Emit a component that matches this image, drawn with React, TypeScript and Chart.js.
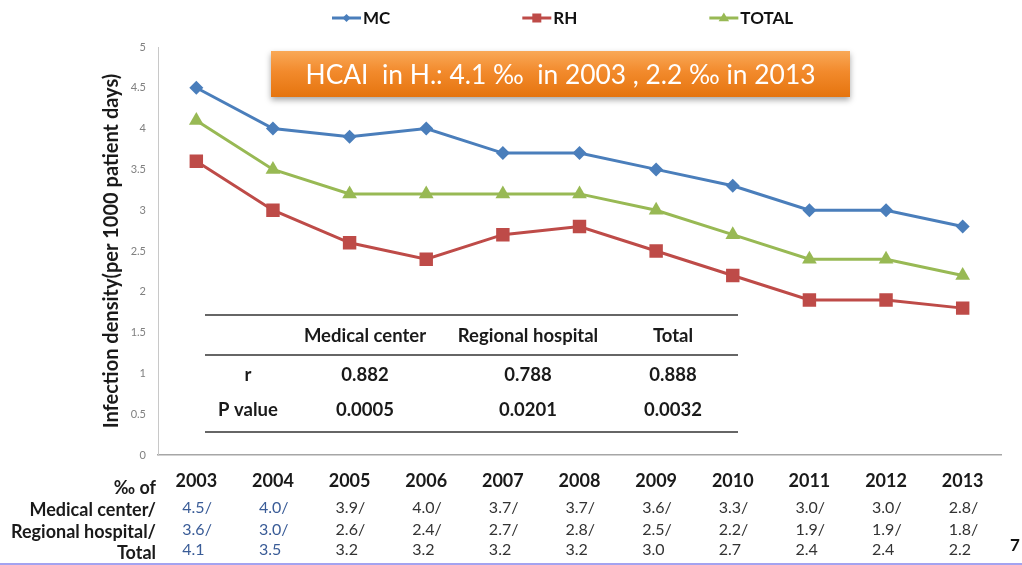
import React, { useEffect, useRef } from "react";
import { Chart, registerables } from "chart.js";

Chart.register(...registerables);

// ---------- data ----------
const years = ["2003", "2004", "2005", "2006", "2007", "2008", "2009", "2010", "2011", "2012", "2013"];
const mcValues = [4.5, 4.0, 3.9, 4.0, 3.7, 3.7, 3.5, 3.3, 3.0, 3.0, 2.8];
const rhValues = [3.6, 3.0, 2.6, 2.4, 2.7, 2.8, 2.5, 2.2, 1.9, 1.9, 1.8];
const totalValues = [4.1, 3.5, 3.2, 3.2, 3.2, 3.2, 3.0, 2.7, 2.4, 2.4, 2.2];

const mcTableText = ["4.5/", "4.0/", "3.9/", "4.0/", "3.7/", "3.7/", "3.6/", "3.3/", "3.0/", "3.0/", "2.8/"];
const rhTableText = ["3.6/", "3.0/", "2.6/", "2.4/", "2.7/", "2.8/", "2.5/", "2.2/", "1.9/", "1.9/", "1.8/"];
const totalTableText = ["4.1", "3.5", "3.2", "3.2", "3.2", "3.2", "3.0", "2.7", "2.4", "2.4", "2.2"];
const tableRowLabels = ["‰ of", "Medical center/", "Regional hospital/", "Total"];

const corrColumns = ["Medical center", "Regional hospital", "Total"];
const corrRowLabels = ["r", "P value"];
const corrR = ["0.882", "0.788", "0.888"];
const corrP = ["0.0005", "0.0201", "0.0032"];

const seriesLabels = ["MC", "RH", "TOTAL"];
const yTitle = "Infection density(per 1000 patient days)";
const bannerText = "HCAI  in H.: 4.1 \u2030  in 2003 , 2.2 \u2030 in 2013";
const pageNumber = "7";

const FONT = "Lato, 'Open Sans', sans-serif";
const COLORS = ["#4A7EBB", "#BE4B48", "#98B954"];
const STYLES = ["rectRot", "rect", "triangle"];

function marker(ctx: CanvasRenderingContext2D, style: string, x: number, y: number, r: number, color: string) {
  ctx.save();
  ctx.fillStyle = color;
  ctx.beginPath();
  if (style === "rectRot") {
    ctx.moveTo(x - r, y);
    ctx.lineTo(x, y - r);
    ctx.lineTo(x + r, y);
    ctx.lineTo(x, y + r);
  } else if (style === "rect") {
    ctx.rect(x - r, y - r, 2 * r, 2 * r);
  } else {
    ctx.moveTo(x, y - r);
    ctx.lineTo(x + r * 0.95, y + r * 0.6);
    ctx.lineTo(x - r * 0.95, y + r * 0.6);
  }
  ctx.closePath();
  ctx.fill();
  ctx.restore();
}

const overlay = {
  id: "overlay",
  afterDraw(chart: any) {
    const ctx: CanvasRenderingContext2D = chart.ctx;
    const xs = chart.scales.x;
    ctx.save();

    // legend
    let lx = 332;
    const ly = 18;
    const markerSizes = [4, 4.5, 5.5];
    seriesLabels.forEach((lab, i) => {
      ctx.strokeStyle = COLORS[i];
      ctx.lineWidth = 3;
      ctx.beginPath();
      ctx.moveTo(lx, ly);
      ctx.lineTo(lx + 29, ly);
      ctx.stroke();
      marker(ctx, STYLES[i], lx + 14.5, ly, markerSizes[i], COLORS[i]);
      ctx.font = `bold 17px ${FONT}`;
      ctx.fillStyle = "#111";
      ctx.textAlign = "left";
      ctx.textBaseline = "middle";
      ctx.fillText(lab, lx + 31, ly + 1);
      lx += 31 + ctx.measureText(lab).width + 132;
    });

    // banner
    const bx = 271, by = 51, bw = 579, bh = 46;
    ctx.save();
    ctx.shadowColor = "rgba(0,0,0,0.35)";
    ctx.shadowBlur = 6;
    ctx.shadowOffsetY = 3;
    const g = ctx.createLinearGradient(0, by, 0, by + bh);
    g.addColorStop(0, "#F9A957");
    g.addColorStop(0.45, "#F28A2C");
    g.addColorStop(1, "#E5740E");
    ctx.fillStyle = g;
    ctx.fillRect(bx, by, bw, bh);
    ctx.restore();
    let fs = 26;
    ctx.font = `${fs}px ${FONT}`;
    fs = (fs * 510) / ctx.measureText(bannerText).width;
    ctx.font = `${fs}px ${FONT}`;
    ctx.fillStyle = "#ffffff";
    ctx.textAlign = "center";
    ctx.textBaseline = "middle";
    ctx.fillText(bannerText, bx + bw / 2, by + bh / 2 + 1);

    // correlation table
    ctx.strokeStyle = "#333";
    ctx.lineWidth = 1.5;
    [315, 355, 432].forEach((yy) => {
      ctx.beginPath();
      ctx.moveTo(205, yy);
      ctx.lineTo(738, yy);
      ctx.stroke();
    });
    const colX = [365, 528, 673];
    ctx.font = `bold 18.5px ${FONT}`;
    ctx.fillStyle = "#1a1a1a";
    ctx.textAlign = "center";
    corrColumns.forEach((c, i) => ctx.fillText(c, colX[i], 336));
    ctx.fillText(corrRowLabels[0], 248, 375);
    ctx.fillText(corrRowLabels[1], 248, 410);
    corrR.forEach((v, i) => ctx.fillText(v, colX[i], 375));
    corrP.forEach((v, i) => ctx.fillText(v, colX[i], 410));

    // bottom data table
    ctx.textAlign = "right";
    ctx.font = `bold 18px ${FONT}`;
    const rowY = [488, 510, 532, 553];
    tableRowLabels.forEach((t, i) => ctx.fillText(t, 156, rowY[i]));
    ctx.font = `16px ${FONT}`;
    ctx.textAlign = "left";
    const valY = [508, 530, 550];
    [mcTableText, rhTableText, totalTableText].forEach((row, r) => {
      row.forEach((t, i) => {
        ctx.fillStyle = i < 2 ? "#3A5C97" : "#333";
        const px = xs.getPixelForValue(i);
        ctx.fillText(t, px - 14, valY[r]);
      });
    });

    // page number
    ctx.font = `bold 17px ${FONT}`;
    ctx.fillStyle = "#111";
    ctx.textAlign = "center";
    ctx.fillText(pageNumber, 1015, 546);

    // bottom rule
    ctx.strokeStyle = "#A3A3F0";
    ctx.lineWidth = 2;
    ctx.beginPath();
    ctx.moveTo(0, 564);
    ctx.lineTo(1022, 564);
    ctx.stroke();

    ctx.restore();
  },
};

export default function App() {
  const ref = useRef<HTMLCanvasElement>(null);
  useEffect(() => {
    document.body.style.margin = "0";
    const canvas = ref.current!;
    const chart = new Chart(canvas, {
      type: "line",
      data: {
        labels: years,
        datasets: [
          {
            label: seriesLabels[0],
            data: mcValues,
            borderColor: COLORS[0],
            backgroundColor: COLORS[0],
            borderWidth: 3,
            pointStyle: STYLES[0] as any,
            pointRadius: 7,
            pointBorderWidth: 0,
            tension: 0,
          },
          {
            label: seriesLabels[1],
            data: rhValues,
            borderColor: COLORS[1],
            backgroundColor: COLORS[1],
            borderWidth: 3,
            pointStyle: STYLES[1] as any,
            pointRadius: 9.5,
            pointBorderWidth: 0,
            tension: 0,
          },
          {
            label: seriesLabels[2],
            data: totalValues,
            borderColor: COLORS[2],
            backgroundColor: COLORS[2],
            borderWidth: 3,
            pointStyle: STYLES[2] as any,
            pointRadius: 8.5,
            pointBorderWidth: 0,
            tension: 0,
          },
        ],
      },
      options: {
        animation: false,
        responsive: false,
        layout: { padding: { top: 47, right: 21, left: 0, bottom: 0 } },
        plugins: { legend: { display: false }, tooltip: { enabled: false } },
        scales: {
          x: {
            offset: true,
            grid: { display: false, drawTicks: false, offset: true },
            border: { color: "#a6a6a6", width: 1.5 },
            ticks: {
              font: { family: FONT, size: 18, weight: "bold" },
              color: "#1a1a1a",
              padding: 15,
              maxRotation: 0,
            },
            afterFit(s: any) {
              s.height = 110;
            },
          },
          y: {
            min: 0,
            max: 5,
            ticks: {
              stepSize: 0.5,
              font: { family: FONT, size: 11 },
              color: "#808080",
              padding: 12,
              callback: (v: any) => `${Number(v)}`,
            },
            grid: { display: false, drawTicks: false },
            border: { color: "#c8c8c8", width: 1 },
            title: {
              display: true,
              text: yTitle,
              font: { family: FONT, size: 20, weight: "bold" },
              color: "#1a1a1a",
              padding: { top: 100, bottom: 0 },
            },
            afterFit(s: any) {
              s.width = 158;
            },
          },
        },
      } as any,
      plugins: [overlay],
    });
    return () => chart.destroy();
  }, []);
  return <canvas ref={ref} width={1022} height={565} style={{ display: "block" }} />;
}
